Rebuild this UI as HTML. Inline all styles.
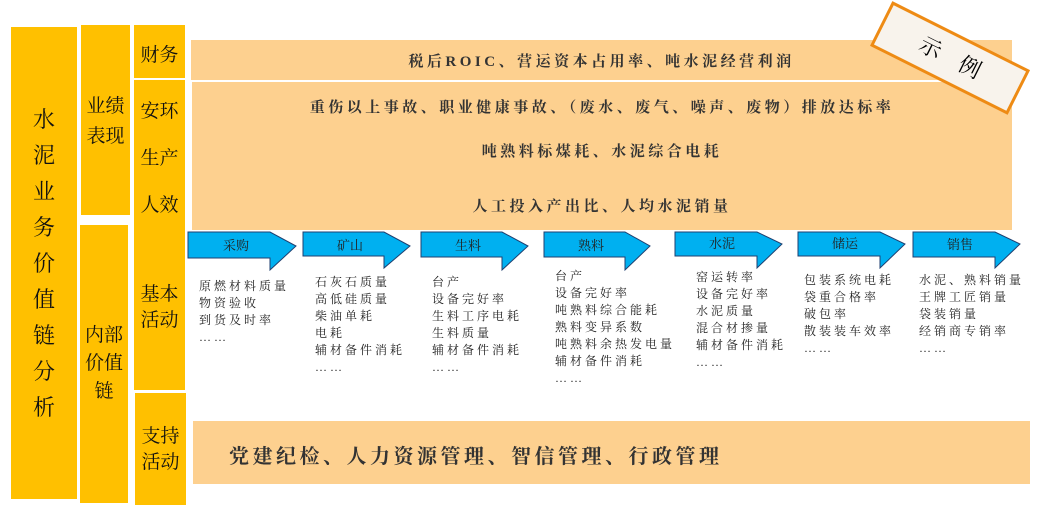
<!DOCTYPE html>
<html><head><meta charset="utf-8"><style>
body{margin:0;width:1039px;height:505px;background:#fff;position:relative;overflow:hidden;font-family:"Liberation Serif","Noto Serif CJK SC",serif;}
.b{position:absolute;background:#ffc000;}
.p{position:absolute;background:#fdd08f;}
.t{position:absolute;color:#1a1a1a;}
.v{position:absolute;text-align:center;color:#111;font-size:19px;}
.l{position:absolute;font-size:12px;line-height:17px;color:#222;letter-spacing:3px;}
.c{position:absolute;width:100%;text-align:center;font-weight:bold;color:#333;font-size:15px;letter-spacing:3.5px;}
</style></head><body>
<div class="b" style="left:11px;top:27px;width:66px;height:472px"></div>
<div class="v" style="left:11px;top:102px;width:66px;font-size:22px;line-height:36px">水<br>泥<br>业<br>务<br>价<br>值<br>链<br>分<br>析</div>
<div class="b" style="left:81px;top:25px;width:49px;height:190px"></div>
<div class="v" style="left:81px;top:92px;width:49px;line-height:30px">业绩<br>表现</div>
<div class="b" style="left:80px;top:225px;width:48px;height:278px"></div>
<div class="v" style="left:80px;top:322px;width:48px;line-height:28px">内部<br>价值<br>链</div>
<div class="b" style="left:134px;top:25px;width:51px;height:53px"></div>
<div class="v" style="left:134px;top:40px;width:51px">财务</div>
<div class="b" style="left:134px;top:80px;width:51px;height:310px"></div>
<div class="v" style="left:134px;top:88px;width:51px;line-height:47px">安环<br>生产<br>人效</div>
<div class="v" style="left:134px;top:282px;width:51px;line-height:26px">基本<br>活动</div>
<div class="b" style="left:135px;top:393px;width:51px;height:112px"></div>
<div class="v" style="left:135px;top:424px;width:51px;line-height:26px">支持<br>活动</div>

<div class="p" style="left:191px;top:40px;width:821px;height:40px"><div class="c" style="top:10px">税后ROIC、营运资本占用率、吨水泥经营利润</div></div>
<div class="p" style="left:192px;top:82px;width:820px;height:148px">
<div class="c" style="top:14px">重伤以上事故、职业健康事故、（废水、废气、噪声、废物）排放达标率</div>
<div class="c" style="top:58px">吨熟料标煤耗、水泥综合电耗</div>
<div class="c" style="top:113px">人工投入产出比、人均水泥销量</div></div>
<div class="p" style="left:193px;top:421px;width:837px;height:63px"><div class="t" style="left:36px;top:19px;font-size:20px;font-weight:bold;color:#333;letter-spacing:3.5px">党建纪检、人力资源管理、智信管理、行政管理</div></div>

<svg style="position:absolute;left:0;top:0" width="1039" height="505">
<g fill="#00b0f0" stroke="#1f3f6f" stroke-width="1">
<polygon points="188,232 270,232 296,246 270,270 270,258 188,258"/>
<polygon points="303,232 384,232 410,246 384,268 384,256 303,256"/>
<polygon points="421,232 502,232 528,246 502,270 502,257 421,257"/>
<polygon points="544,232 625,232 650,246 625,270 625,257 544,257"/>
<polygon points="675,232 757,232 782,244 757,268 757,256 675,256"/>
<polygon points="798,232 880,232 905,244 880,268 880,256 798,256"/>
<polygon points="913,232 995,232 1020,244 995,268 995,257 913,257"/>
</g>
<g font-size="13" fill="#222" text-anchor="middle" font-family="Liberation Serif,Noto Serif CJK SC,serif">
<text x="236" y="250">采购</text><text x="350" y="250">矿山</text><text x="468" y="250">生料</text>
<text x="591" y="250">熟料</text><text x="722" y="248">水泥</text><text x="845" y="248">储运</text><text x="960" y="249">销售</text>
</g>
</svg>

<div class="l" style="left:199px;top:278px">原燃材料质量<br>物资验收<br>到货及时率<br>……</div>
<div class="l" style="left:315px;top:274px">石灰石质量<br>高低硅质量<br>柴油单耗<br>电耗<br>辅材备件消耗<br>……</div>
<div class="l" style="left:432px;top:274px">台产<br>设备完好率<br>生料工序电耗<br>生料质量<br>辅材备件消耗<br>……</div>
<div class="l" style="left:555px;top:268px">台产<br>设备完好率<br>吨熟料综合能耗<br>熟料变异系数<br>吨熟料余热发电量<br>辅材备件消耗<br>……</div>
<div class="l" style="left:696px;top:269px">窑运转率<br>设备完好率<br>水泥质量<br>混合材掺量<br>辅材备件消耗<br>……</div>
<div class="l" style="left:804px;top:272px">包装系统电耗<br>袋重合格率<br>破包率<br>散装装车效率<br>……</div>
<div class="l" style="left:919px;top:272px">水泥、熟料销量<br>王牌工匠销量<br>袋装销量<br>经销商专销率<br>……</div>

<div style="position:absolute;left:873px;top:33px;width:154px;height:50px;background:#f8f3ec;border:3px solid #ee8b14;transform:rotate(26.6deg);box-sizing:border-box;text-align:center;font-size:22px;line-height:44px;letter-spacing:22px;padding-left:22px;color:#000">示例</div>
</body></html>
